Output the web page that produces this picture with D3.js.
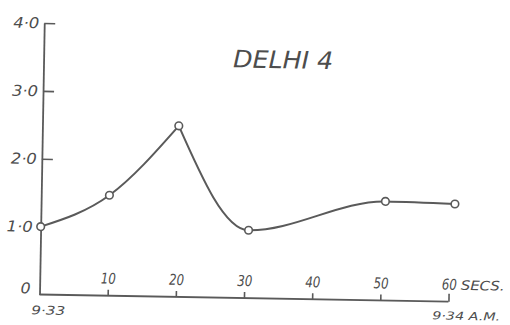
<!DOCTYPE html>
<html>
<head>
<meta charset="utf-8">
<script src="https://cdn.jsdelivr.net/npm/d3@7"></script>
<style>
  html, body { margin: 0; padding: 0; background: #fff; }
  svg { display: block; }
  text { font-family: "DejaVu Sans", sans-serif; font-style: italic; fill: #4d4d4d; }
</style>
</head>
<body>
<svg id="chart" width="510" height="325"></svg>
<script>
// ---- data ----
const seconds = [0, 10, 20, 30.5, 50.5, 60.7];
const values  = [1.0, 1.48, 2.52, 1.0, 1.46, 1.44];
const xTicks = [10, 20, 30, 40, 50, 60];
const yTicks = [0, 1, 2, 3, 4];
const title = "DELHI 4";
const xUnit = "SECS.";
const startTime = "9·33";
const endTime = "9·34 A.M.";

// ---- layout ----
const svg = d3.select("#chart");
const ox = 39.5, oy = 294.5;
const ink = "#5a5a5a";

const g = svg.append("g").attr("transform", `rotate(1, ${ox}, ${oy})`);

const x = d3.scaleLinear().domain([0, 60]).range([ox, ox + 409]);
const y = d3.scaleLinear().domain([0, 4]).range([oy, oy - 271.5]);

// y axis
const yAxis = d3.axisLeft(y)
  .tickValues(yTicks)
  .tickSizeInner(-11)
  .tickSizeOuter(0)
  .tickPadding(5)
  .tickFormat(d => d === 0 ? "0" : d.toFixed(1).replace(".", "·"));
const ya = g.append("g").attr("transform", `translate(${ox},0)`).call(yAxis);
ya.select(".domain").attr("stroke", ink).attr("stroke-width", 1.8);
ya.selectAll(".tick line").attr("stroke", ink).attr("stroke-width", 1.6)
  .attr("display", d => d >= 2 ? null : "none");
ya.selectAll(".tick text")
  .attr("font-size", 15).attr("font-family", "DejaVu Sans").attr("font-style", "italic")
  .attr("fill", "#4d4d4d")
  .attr("textLength", d => d === 0 ? 10 : 26)
  .attr("lengthAdjust", "spacingAndGlyphs")
  .attr("dx", d => d === 0 ? -4 : (d === 1 ? -3 : 0))
  .attr("dy", d => d === 0 ? "-0.1em" : "0.32em");

// x axis
const xAxis = d3.axisTop(x)
  .tickValues(xTicks)
  .tickSizeInner(6)
  .tickSizeOuter(0)
  .tickPadding(6)
  .tickFormat(d3.format("d"));
const xa = g.append("g").attr("transform", `translate(0,${oy})`).call(xAxis);
xa.select(".domain").attr("stroke", ink).attr("stroke-width", 1.8)
  .attr("d", `M${ox},0H${x(60)}`);
xa.selectAll(".tick line").attr("stroke", ink).attr("stroke-width", 1.6)
  .attr("y2", d => d === 60 ? -8 : -6);
xa.selectAll(".tick text")
  .attr("font-size", 15).attr("font-family", "DejaVu Sans").attr("font-style", "italic")
  .attr("fill", "#4d4d4d")
  .attr("textLength", 15).attr("lengthAdjust", "spacingAndGlyphs");

g.append("text")
  .attr("x", x(60) + 12).attr("y", oy - 12)
  .attr("font-size", 13)
  .attr("textLength", 44).attr("lengthAdjust", "spacingAndGlyphs")
  .text(xUnit);

g.append("text")
  .attr("x", ox - 8).attr("y", oy + 20)
  .attr("font-size", 12)
  .attr("textLength", 34).attr("lengthAdjust", "spacingAndGlyphs")
  .text(startTime);

g.append("text")
  .attr("x", x(60) - 16).attr("y", oy + 18)
  .attr("font-size", 11)
  .attr("textLength", 68).attr("lengthAdjust", "spacingAndGlyphs")
  .text(endTime);

// title
g.append("text")
  .attr("x", 229).attr("y", 64)
  .attr("font-size", 24)
  .attr("textLength", 100).attr("lengthAdjust", "spacingAndGlyphs")
  .attr("fill", "#555")
  .text(title);

// curve: smooth pieces meeting at the sharp peak (index 2)
const pts = seconds.map((s, i) => [s, values[i]]);
const line = d3.line()
  .x(d => x(d[0])).y(d => y(d[1]))
  .curve(d3.curveMonotoneX);
const peak = d3.maxIndex(values);
[pts.slice(0, peak + 1), pts.slice(peak)].forEach(seg => {
  g.append("path")
    .datum(seg)
    .attr("d", line)
    .attr("fill", "none")
    .attr("stroke", ink)
    .attr("stroke-width", 2)
    .attr("stroke-linejoin", "round")
    .attr("stroke-linecap", "round");
});

g.selectAll("circle.pt")
  .data(pts)
  .join("circle")
  .attr("class", "pt")
  .attr("cx", d => x(d[0])).attr("cy", d => y(d[1]))
  .attr("r", 3.8)
  .attr("fill", "#fff")
  .attr("stroke", ink)
  .attr("stroke-width", 1.6);
</script>
</body>
</html>
